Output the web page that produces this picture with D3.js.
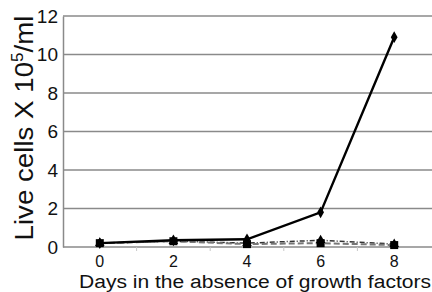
<!DOCTYPE html>
<html>
<head>
<meta charset="utf-8">
<script src="https://cdn.jsdelivr.net/npm/d3@7"></script>
<style>
  body { margin: 0; background: #fff; overflow: hidden; }
  text { font-family: 'Liberation Sans', Arial, sans-serif; fill: #111; }
</style>
</head>
<body>
<div id="chart"></div>
<script>
const days = ['0', '2', '4', '6', '8']
const yTicks = [0, 2, 4, 6, 8, 10, 12]
const seriesA = [0.2, 0.35, 0.4, 1.8, 10.9]   // solid, diamonds
const seriesB = [0.2, 0.3, 0.15, 0.2, 0.1]    // dashed grey, squares
const seriesC = [0.2, 0.3, 0.2, 0.35, 0.15]   // dash-dot, triangles

const W = 432
const H = 292
const m = { top: 16, right: 1, bottom: 45, left: 63 }

const svg = d3.select('#chart').append('svg')
  .attr('width', W)
  .attr('height', H)

const x = d3.scaleBand()
  .domain(days)
  .range([m.left, W - m.right])

const y = d3.scaleLinear()
  .domain([0, 12])
  .range([H - m.bottom, m.top])

// gridlines
svg.append('g')
  .selectAll('line')
  .data(yTicks)
  .join('line')
  .attr('x1', m.left)
  .attr('x2', W)
  .attr('y1', d => y(d))
  .attr('y2', d => y(d))
  .attr('stroke', '#8a8a8a')
  .attr('stroke-width', 1.5)

// left axis
const yAxis = svg.append('g')
  .attr('transform', `translate(${m.left},0)`)
  .call(d3.axisLeft(y).tickValues(yTicks).tickSize(0).tickPadding(5))
yAxis.select('.domain').attr('stroke', '#8a8a8a').attr('stroke-width', 1.5)
yAxis.selectAll('text').style('font-size', '19px')

// bottom axis with ticks on category boundaries
const xAxis = svg.append('g')
  .attr('transform', `translate(0,${y(0)})`)
  .call(d3.axisBottom(x).tickSize(0).tickPadding(9))
xAxis.select('.domain').remove()
xAxis.selectAll('text').style('font-size', '16px')

svg.append('g')
  .selectAll('line')
  .data(days.slice(1))
  .join('line')
  .attr('x1', d => x(d))
  .attr('x2', d => x(d))
  .attr('y1', y(0))
  .attr('y2', y(0) + 4)
  .attr('stroke', '#c8c8c8')
  .attr('stroke-width', 1)

const cx = d => x(d) + x.bandwidth() / 2
const line = d3.line()
  .x((d, i) => cx(days[i]))
  .y(d => y(d))

// dash-dot series
svg.append('path')
  .datum(seriesC)
  .attr('fill', 'none')
  .attr('stroke', '#333')
  .attr('stroke-width', 1.5)
  .attr('stroke-dasharray', '5,2,1,2')
  .attr('d', line)

// dashed grey series
svg.append('path')
  .datum(seriesB)
  .attr('fill', 'none')
  .attr('stroke', '#777')
  .attr('stroke-width', 2)
  .attr('stroke-dasharray', '6,3')
  .attr('d', line)

// solid series
svg.append('path')
  .datum(seriesA)
  .attr('fill', 'none')
  .attr('stroke', '#000')
  .attr('stroke-width', 2.4)
  .attr('d', line)

svg.append('g')
  .selectAll('path')
  .data(seriesC)
  .join('path')
  .attr('transform', (d, i) => `translate(${cx(days[i])},${y(d)})`)
  .attr('d', d3.symbol(d3.symbolTriangle, 40))
  .attr('fill', '#000')

svg.append('g')
  .selectAll('rect')
  .data(seriesB)
  .join('rect')
  .attr('x', (d, i) => cx(days[i]) - 4)
  .attr('y', d => y(d) - 4)
  .attr('width', 8)
  .attr('height', 8)
  .attr('fill', '#000')

svg.append('g')
  .selectAll('path')
  .data(seriesA)
  .join('path')
  .attr('transform', (d, i) => `translate(${cx(days[i])},${y(d)})`)
  .attr('d', d3.symbol(d3.symbolDiamond, 40))
  .attr('fill', '#000')

// axis titles
const yTitle = svg.append('text')
  .attr('transform', 'translate(33,128) rotate(-90)')
  .attr('text-anchor', 'middle')
  .attr('textLength', 225)
  .attr('lengthAdjust', 'spacingAndGlyphs')
  .style('font-size', '26px')
yTitle.append('tspan').text('Live cells X 10')
yTitle.append('tspan').attr('dy', -10).style('font-size', '16px').text('5')
yTitle.append('tspan').attr('dy', 10).text('/ml')

svg.append('text')
  .attr('x', 255)
  .attr('y', 288)
  .attr('text-anchor', 'middle')
  .attr('textLength', 352)
  .attr('lengthAdjust', 'spacingAndGlyphs')
  .style('font-size', '18px')
  .text('Days in the absence of growth factors')
</script>
</body>
</html>
